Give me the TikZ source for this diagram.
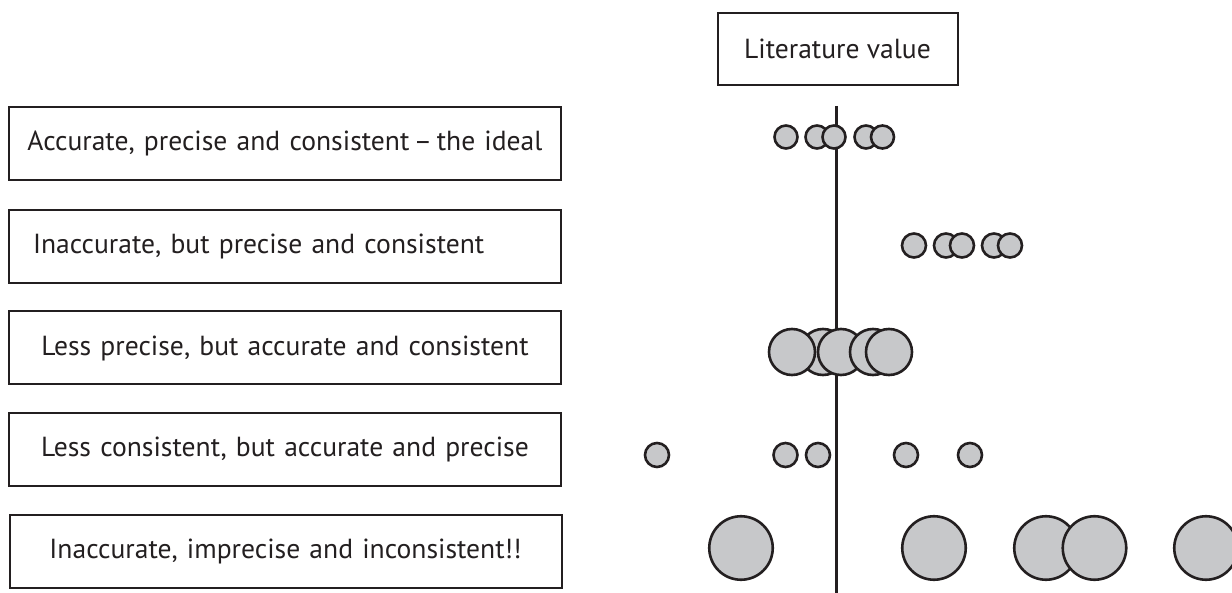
\documentclass[tikz,border=0pt]{standalone}
\usepackage{fontspec}
\setmainfont{PT Sans}
\usetikzlibrary{positioning}
\definecolor{ink}{HTML}{231F20}
\definecolor{resultgray}{HTML}{C7C8CA}

\begin{document}
\begin{tikzpicture}[x=1pt,y=-1pt,align=center,
    every node/.style={text=ink, font=\fontsize{27.6}{32}\selectfont},
    case/.style={draw=ink, line width=2pt, minimum height=73pt,
                 text width=540pt, inner xsep=6pt},
    result/.style={circle, draw=ink, fill=resultgray, line width=2.6pt,
                   inner sep=0pt, minimum size=#1}]
  \clip (0,0) rectangle (1232,593);

  %% the five cases on the left
  \node[case] (ideal)      at (285,143.5) {Accurate, precise and consistent\,--\,the ideal};
  \node[case, align=left, inner xsep=24pt, text width=504pt]
                (inaccurate) at (285,246.3) {Inaccurate, but precise and consistent};
  \node[case] (imprecise)  at (285,348)   {Less precise, but accurate and consistent};
  \node[case] (inconsist)  at (285,449.5) {Less consistent, but accurate and precise};
  \node[case] (worst)      at (285.5,551.7) {Inaccurate, imprecise and inconsistent!!};

  %% reference value and its line
  \node[draw=ink, line width=2pt, minimum width=240pt, minimum height=72pt]
        (literature) at (837.5,49) {Literature value};
  \coordinate (reftop) at (836.5,106);
  \coordinate (refbot) at (836.5,593);
  \draw[ink, line width=3.2pt] (reftop) -- (refbot);

  %% results, one row per case
  \foreach \x [count=\i] in {786,817,834,866,882.5}
    \node[result=23pt] (a\i) at (\x,137) {};
  \foreach \x [count=\i] in {914,946,962,994,1010}
    \node[result=24pt] (b\i) at (\x,245.5) {};
  \foreach \x [count=\i] in {823,792,841,873,889}
    \node[result=46pt] (c\i) at (\x,352) {};
  \foreach \x [count=\i] in {657,785.5,818,906,970}
    \node[result=24pt] (d\i) at (\x,455) {};
  \foreach \x [count=\i] in {741,934,1046,1094.5,1206}
    \node[result=63.5pt] (e\i) at (\x,548) {};

\end{tikzpicture}
\end{document}
